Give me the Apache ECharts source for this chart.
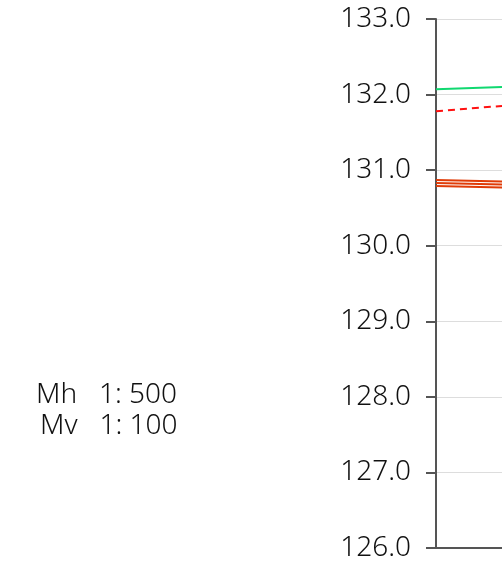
<!DOCTYPE html>
<html>
<head>
<meta charset="utf-8">
<script src="https://cdn.jsdelivr.net/npm/echarts@6/dist/echarts.min.js"></script>
<style>
  html, body { margin: 0; padding: 0; background: #fff; }
  #chart { width: 502px; height: 562px; }
</style>
</head>
<body>
<div id="chart"></div>
<script>
// chainage (only the start of the section is visible)
const chainage = [0, 10];
// levels in metres
const greenLine = [132.07, 132.1];
const redDashed = [131.78, 131.85];
const orangeTop = [130.87, 130.85];
const orangeMid = [130.83, 130.81];
const orangeLow = [130.79, 130.77];

const yTicks = { min: 126, max: 133, step: 1 };
const scaleText = ['Mh   1: 500', 'Mv   1: 100'];

const toPairs = vals => chainage.map((c, i) => [c, vals[i]]);

const chart = echarts.init(document.getElementById('chart'));

const lineSeries = (name, data, color, type) => ({
  name,
  type: 'line',
  data: toPairs(data),
  showSymbol: false,
  silent: true,
  lineStyle: { color, width: 2, type: type || 'solid' }
});

chart.setOption({
  animation: false,
  grid: { left: 436, right: 0, top: 19, bottom: 13 },
  xAxis: {
    type: 'value',
    min: chainage[0],
    max: chainage[chainage.length - 1],
    axisLine: { show: true, lineStyle: { color: '#555', width: 2 } },
    axisTick: { show: false },
    axisLabel: { show: false },
    splitLine: { show: false }
  },
  yAxis: {
    type: 'value',
    min: yTicks.min,
    max: yTicks.max,
    interval: yTicks.step,
    axisLine: { show: true, lineStyle: { color: '#555', width: 2 } },
    axisTick: { show: true, length: 10, lineStyle: { color: '#555', width: 2 } },
    axisLabel: {
      margin: 25,
      color: '#111',
      fontFamily: 'Noto Sans',
      fontWeight: 300,
      fontSize: 28,
      formatter: v => v.toFixed(1)
    },
    splitLine: { show: true, lineStyle: { color: '#ddd', width: 1 } }
  },
  graphic: scaleText.map((t, i) => ({
    type: 'text',
    left: 36 + i * 4,
    top: 381 + i * 31,
    style: { text: t, fill: '#111', font: '300 28px "Noto Sans"' }
  })),
  series: [
    lineSeries('green', greenLine, '#10d870'),
    lineSeries('red', redDashed, '#ff1010', [7, 5]),
    lineSeries('o1', orangeTop, '#e03c08'),
    lineSeries('o2', orangeMid, '#e03c08'),
    lineSeries('o3', orangeLow, '#e03c08')
  ]
});
</script>
</body>
</html>
